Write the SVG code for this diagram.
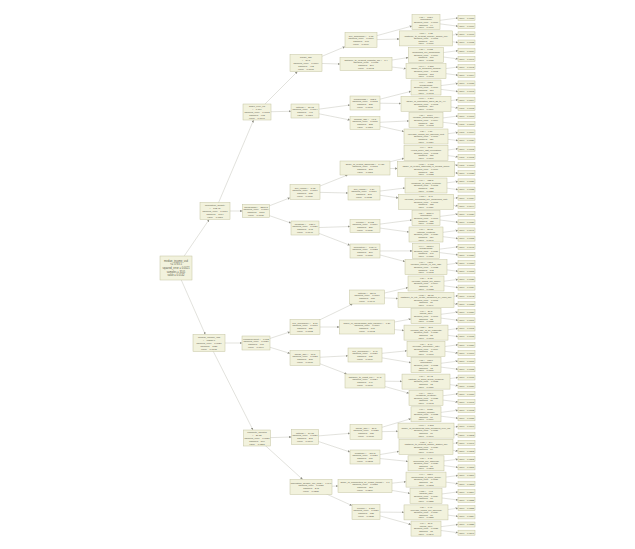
<svg xmlns="http://www.w3.org/2000/svg" width="635" height="549" viewBox="0 0 635 549">
<defs>
<style>
.n rect{fill:#f2f2dd;stroke:#c4c4a0;stroke-width:.5}
.n text{font-family:"Liberation Sans",Arial,sans-serif;font-size:2.4px;fill:#5a5a4a;text-anchor:middle}
.r text{font-size:2.6px}
.s text{font-size:2.3px}
#edges line{stroke:#b5b5aa;stroke-width:.4;fill:none;marker-end:url(#a)}
</style>
<marker id="a" viewBox="0 0 6 6" refX="6" refY="3" markerWidth="2.4" markerHeight="2.4" markerUnits="userSpaceOnUse" orient="auto"><path d="M0,0L6,3L0,6z" fill="#8f8f85"/></marker>
</defs>
<rect width="635" height="549" fill="#fff"/>
<g id="edges">
<line x1="176" y1="268" x2="209.2" y2="219.5"/>
<line x1="176" y1="268" x2="205.3" y2="334.5"/>
<line x1="215" y1="211" x2="253.6" y2="120"/>
<line x1="215" y1="211" x2="242.5" y2="211"/>
<line x1="209" y1="343" x2="242" y2="343"/>
<line x1="209" y1="343" x2="253" y2="430"/>
<line x1="257" y1="112" x2="297.5" y2="71.5"/>
<line x1="257" y1="112" x2="291" y2="111.3"/>
<line x1="256" y1="211" x2="290" y2="197.8"/>
<line x1="256" y1="211" x2="291" y2="223.1"/>
<line x1="256" y1="343" x2="290" y2="331.9"/>
<line x1="256" y1="343" x2="290" y2="353.4"/>
<line x1="257" y1="438" x2="291.5" y2="437"/>
<line x1="257" y1="438" x2="302.7" y2="479.5"/>
<line x1="306" y1="63" x2="345" y2="46.7"/>
<line x1="306" y1="63" x2="340" y2="64"/>
<line x1="305" y1="111" x2="350" y2="105"/>
<line x1="305" y1="111" x2="350" y2="120"/>
<line x1="305" y1="192" x2="347.6" y2="175"/>
<line x1="305" y1="192" x2="348" y2="193"/>
<line x1="305" y1="228" x2="350" y2="226.5"/>
<line x1="305" y1="228" x2="350" y2="245.3"/>
<line x1="305" y1="327" x2="352.5" y2="304"/>
<line x1="305" y1="327" x2="339.5" y2="327"/>
<line x1="305" y1="358" x2="348" y2="355.8"/>
<line x1="305" y1="358" x2="346.7" y2="374"/>
<line x1="305" y1="437" x2="350" y2="433.3"/>
<line x1="305" y1="437" x2="350" y2="452"/>
<line x1="311" y1="487" x2="338" y2="486"/>
<line x1="311" y1="487" x2="352" y2="505.6"/>
<line x1="361" y1="40" x2="412" y2="26"/>
<line x1="361" y1="40" x2="399.5" y2="39"/>
<line x1="366" y1="64" x2="408.5" y2="57.5"/>
<line x1="366" y1="64" x2="406" y2="68.7"/>
<line x1="365" y1="103" x2="411" y2="91.3"/>
<line x1="365" y1="103" x2="401" y2="103.5"/>
<line x1="365" y1="123" x2="409" y2="120.9"/>
<line x1="365" y1="123" x2="404" y2="131.6"/>
<line x1="365" y1="168" x2="404" y2="158.3"/>
<line x1="365" y1="168" x2="397.5" y2="168.6"/>
<line x1="364" y1="193" x2="405" y2="188"/>
<line x1="364" y1="193" x2="398.5" y2="197.9"/>
<line x1="365" y1="226" x2="412" y2="220"/>
<line x1="365" y1="226" x2="409" y2="232.1"/>
<line x1="365" y1="251" x2="412.5" y2="250.9"/>
<line x1="365" y1="251" x2="405" y2="261.6"/>
<line x1="367" y1="297" x2="408" y2="287.6"/>
<line x1="367" y1="297" x2="398" y2="298.5"/>
<line x1="367" y1="327" x2="411" y2="319"/>
<line x1="367" y1="327" x2="404" y2="330.5"/>
<line x1="365" y1="355" x2="407" y2="350.8"/>
<line x1="365" y1="355" x2="411" y2="362.7"/>
<line x1="365" y1="381" x2="402" y2="381.4"/>
<line x1="365" y1="381" x2="409" y2="393.2"/>
<line x1="366" y1="432" x2="411" y2="418.7"/>
<line x1="366" y1="432" x2="398" y2="431.3"/>
<line x1="365" y1="457" x2="399" y2="451.4"/>
<line x1="365" y1="457" x2="408" y2="461.4"/>
<line x1="365" y1="486" x2="406" y2="481.7"/>
<line x1="365" y1="486" x2="410" y2="493.4"/>
<line x1="366" y1="512" x2="404" y2="512.3"/>
<line x1="366" y1="512" x2="411" y2="524.5"/>
<line x1="426" y1="22.1" x2="458" y2="18"/><line x1="426" y1="22.1" x2="458" y2="26.2"/>
<line x1="426" y1="38.4" x2="458" y2="34.3"/><line x1="426" y1="38.4" x2="458" y2="42.5"/>
<line x1="426" y1="54.8" x2="458" y2="50.7"/><line x1="426" y1="54.8" x2="458" y2="58.9"/>
<line x1="426" y1="71.1" x2="458" y2="67"/><line x1="426" y1="71.1" x2="458" y2="75.2"/>
<line x1="426" y1="87.5" x2="458" y2="83.4"/><line x1="426" y1="87.5" x2="458" y2="91.5"/>
<line x1="426" y1="103.8" x2="458" y2="99.7"/><line x1="426" y1="103.8" x2="458" y2="107.9"/>
<line x1="426" y1="120.1" x2="458" y2="116"/><line x1="426" y1="120.1" x2="458" y2="124.2"/>
<line x1="426" y1="136.5" x2="458" y2="132.4"/><line x1="426" y1="136.5" x2="458" y2="140.6"/>
<line x1="426" y1="152.8" x2="458" y2="148.7"/><line x1="426" y1="152.8" x2="458" y2="156.9"/>
<line x1="426" y1="169.2" x2="458" y2="165.1"/><line x1="426" y1="169.2" x2="458" y2="173.2"/>
<line x1="426" y1="185.5" x2="458" y2="181.4"/><line x1="426" y1="185.5" x2="458" y2="189.6"/>
<line x1="426" y1="201.8" x2="458" y2="197.7"/><line x1="426" y1="201.8" x2="458" y2="205.9"/>
<line x1="426" y1="218.2" x2="458" y2="214.1"/><line x1="426" y1="218.2" x2="458" y2="222.3"/>
<line x1="426" y1="234.5" x2="458" y2="230.4"/><line x1="426" y1="234.5" x2="458" y2="238.6"/>
<line x1="426" y1="250.9" x2="458" y2="246.8"/><line x1="426" y1="250.9" x2="458" y2="254.9"/>
<line x1="426" y1="267.2" x2="458" y2="263.1"/><line x1="426" y1="267.2" x2="458" y2="271.3"/>
<line x1="426" y1="283.5" x2="458" y2="279.4"/><line x1="426" y1="283.5" x2="458" y2="287.6"/>
<line x1="426" y1="299.9" x2="458" y2="295.8"/><line x1="426" y1="299.9" x2="458" y2="304"/>
<line x1="426" y1="316.2" x2="458" y2="312.1"/><line x1="426" y1="316.2" x2="458" y2="320.3"/>
<line x1="426" y1="332.6" x2="458" y2="328.5"/><line x1="426" y1="332.6" x2="458" y2="336.6"/>
<line x1="426" y1="348.9" x2="458" y2="344.8"/><line x1="426" y1="348.9" x2="458" y2="353"/>
<line x1="426" y1="365.2" x2="458" y2="361.1"/><line x1="426" y1="365.2" x2="458" y2="369.3"/>
<line x1="426" y1="381.6" x2="458" y2="377.5"/><line x1="426" y1="381.6" x2="458" y2="385.7"/>
<line x1="426" y1="397.9" x2="458" y2="393.8"/><line x1="426" y1="397.9" x2="458" y2="402"/>
<line x1="426" y1="414.3" x2="458" y2="410.2"/><line x1="426" y1="414.3" x2="458" y2="418.3"/>
<line x1="426" y1="430.6" x2="458" y2="426.5"/><line x1="426" y1="430.6" x2="458" y2="434.7"/>
<line x1="426" y1="446.9" x2="458" y2="442.8"/><line x1="426" y1="446.9" x2="458" y2="451"/>
<line x1="426" y1="463.3" x2="458" y2="459.2"/><line x1="426" y1="463.3" x2="458" y2="467.4"/>
<line x1="426" y1="479.6" x2="458" y2="475.5"/><line x1="426" y1="479.6" x2="458" y2="483.7"/>
<line x1="426" y1="496" x2="458" y2="491.9"/><line x1="426" y1="496" x2="458" y2="500"/>
<line x1="426" y1="512.4" x2="458" y2="508.2"/><line x1="426" y1="512.4" x2="458" y2="516.4"/>
<line x1="426" y1="528.6" x2="458" y2="524.5"/><line x1="426" y1="528.6" x2="458" y2="532.7"/>
</g>
<g id="root" class="n r"><rect x="160" y="256" width="32" height="24"/><text x="176" y="261.7">median_income_usd<tspan x="176" dy="3.6">&lt;= 5783.5</tspan><tspan x="176" dy="3.6">squared_error = 0.0021</tspan><tspan x="176" dy="3.6">samples = 3105</tspan><tspan x="176" dy="3.6">value = 0.0142</tspan></text></g>
<g id="n1" class="n"><rect x="200" y="202.5" width="30" height="17"/><text x="215" y="206.05">population_density<tspan x="215" dy="2.9">&lt;= 182.45</tspan><tspan x="215" dy="2.9">squared_error = 0.0017</tspan><tspan x="215" dy="2.9">samples = 1984</tspan><tspan x="215" dy="2.9">value = 0.0118</tspan></text></g>
<g id="n2" class="n"><rect x="193" y="334.5" width="32" height="17"/><text x="209" y="338.05">median_income_usd<tspan x="209" dy="2.9">&lt;= 61250.0</tspan><tspan x="209" dy="2.9">squared_error = 0.0026</tspan><tspan x="209" dy="2.9">samples = 1121</tspan><tspan x="209" dy="2.9">value = 0.0185</tspan></text></g>
<g id="n3" class="n"><rect x="243" y="104" width="28" height="16"/><text x="257" y="107.05">share_over_65<tspan x="257" dy="2.9">&lt;= 0.184</tspan><tspan x="257" dy="2.9">squared_error = 0.0012</tspan><tspan x="257" dy="2.9">samples = 903</tspan><tspan x="257" dy="2.9">value = 0.0097</tspan></text></g>
<g id="n4" class="n"><rect x="242.5" y="204.5" width="27" height="13"/><text x="256" y="207.5">households &lt;= 2310.5<tspan x="256" dy="2.9">squared_error = 0.0019</tspan><tspan x="256" dy="2.9">samples = 1081</tspan><tspan x="256" dy="2.9">value = 0.0136</tspan></text></g>
<g id="n5" class="n"><rect x="242" y="336" width="28" height="14"/><text x="256" y="339.5">unemployment &lt;= 0.062<tspan x="256" dy="2.9">squared_error = 0.0021</tspan><tspan x="256" dy="2.9">samples = 617</tspan><tspan x="256" dy="2.9">value = 0.0164</tspan></text></g>
<g id="n6" class="n"><rect x="243.5" y="430" width="27" height="16"/><text x="257" y="433.05">commute_minutes<tspan x="257" dy="2.9">&lt;= 27.35</tspan><tspan x="257" dy="2.9">squared_error = 0.0031</tspan><tspan x="257" dy="2.9">samples = 504</tspan><tspan x="257" dy="2.9">value = 0.0211</tspan></text></g>
<g id="n7" class="n"><rect x="290" y="54.5" width="32" height="17"/><text x="306" y="58.05">house_age<tspan x="306" dy="2.9">&lt;= 34.5</tspan><tspan x="306" dy="2.9">squared_error = 0.0009</tspan><tspan x="306" dy="2.9">samples = 412</tspan><tspan x="306" dy="2.9">value = 0.0081</tspan></text></g>
<g id="n8" class="n"><rect x="291" y="104" width="28" height="14"/><text x="305" y="107.5">latitude &lt;= 37.62<tspan x="305" dy="2.9">squared_error = 0.0014</tspan><tspan x="305" dy="2.9">samples = 491</tspan><tspan x="305" dy="2.9">value = 0.0110</tspan></text></g>
<g id="n9" class="n"><rect x="290" y="184.5" width="30" height="15"/><text x="305" y="188.5">ave_rooms &lt;= 5.12<tspan x="305" dy="2.9">squared_error = 0.0016</tspan><tspan x="305" dy="2.9">samples = 538</tspan><tspan x="305" dy="2.9">value = 0.0124</tspan></text></g>
<g id="n10" class="n"><rect x="291" y="221" width="28" height="14"/><text x="305" y="224.5">longitude &lt;= -121.9<tspan x="305" dy="2.9">squared_error = 0.0021</tspan><tspan x="305" dy="2.9">samples = 543</tspan><tspan x="305" dy="2.9">value = 0.0148</tspan></text></g>
<g id="n11" class="n"><rect x="290" y="319.5" width="30" height="15"/><text x="305" y="323.5">ave_occupancy &lt;= 2.87<tspan x="305" dy="2.9">squared_error = 0.0018</tspan><tspan x="305" dy="2.9">samples = 329</tspan><tspan x="305" dy="2.9">value = 0.0152</tspan></text></g>
<g id="n12" class="n"><rect x="290" y="350.5" width="30" height="15"/><text x="305" y="354.5">house_age &lt;= 18.5<tspan x="305" dy="2.9">squared_error = 0.0023</tspan><tspan x="305" dy="2.9">samples = 288</tspan><tspan x="305" dy="2.9">value = 0.0178</tspan></text></g>
<g id="n13" class="n"><rect x="291.5" y="429.5" width="27" height="15"/><text x="305" y="433.5">latitude &lt;= 34.05<tspan x="305" dy="2.9">squared_error = 0.0027</tspan><tspan x="305" dy="2.9">samples = 261</tspan><tspan x="305" dy="2.9">value = 0.0196</tspan></text></g>
<g id="n14" class="n"><rect x="290" y="479.5" width="42" height="15"/><text x="311" y="483.5">population_density_per_km2 &lt;= 940.0<tspan x="311" dy="2.9">squared_error = 0.0035</tspan><tspan x="311" dy="2.9">samples = 243</tspan><tspan x="311" dy="2.9">value = 0.0227</tspan></text></g>
<g id="n15" class="n"><rect x="345" y="32.5" width="32" height="15"/><text x="361" y="36.5">ave_bedrooms &lt;= 1.05<tspan x="361" dy="2.9">squared_error = 0.0007</tspan><tspan x="361" dy="2.9">samples = 198</tspan><tspan x="361" dy="2.9">value = 0.0069</tspan></text></g>
<g id="n16" class="n"><rect x="340" y="57.5" width="52" height="13"/><text x="366" y="60.5">distance_to_nearest_hospital_km &lt;= 8.4<tspan x="366" dy="2.9">squared_error = 0.0011</tspan><tspan x="366" dy="2.9">samples = 214</tspan><tspan x="366" dy="2.9">value = 0.0092</tspan></text></g>
<g id="n17" class="n"><rect x="350" y="96" width="30" height="14"/><text x="365" y="99.5">households &lt;= 812.5<tspan x="365" dy="2.9">squared_error = 0.0012</tspan><tspan x="365" dy="2.9">samples = 236</tspan><tspan x="365" dy="2.9">value = 0.0101</tspan></text></g>
<g id="n18" class="n"><rect x="350" y="116.5" width="30" height="13"/><text x="365" y="119.5">median_age &lt;= 41.5<tspan x="365" dy="2.9">squared_error = 0.0015</tspan><tspan x="365" dy="2.9">samples = 255</tspan><tspan x="365" dy="2.9">value = 0.0118</tspan></text></g>
<g id="n19" class="n"><rect x="340" y="161" width="50" height="14"/><text x="365" y="164.5">share_of_rented_dwellings &lt;= 0.437<tspan x="365" dy="2.9">squared_error = 0.0013</tspan><tspan x="365" dy="2.9">samples = 267</tspan><tspan x="365" dy="2.9">value = 0.0115</tspan></text></g>
<g id="n20" class="n"><rect x="348" y="186" width="32" height="14"/><text x="364" y="189.5">ave_rooms &lt;= 6.34<tspan x="364" dy="2.9">squared_error = 0.0017</tspan><tspan x="364" dy="2.9">samples = 271</tspan><tspan x="364" dy="2.9">value = 0.0133</tspan></text></g>
<g id="n21" class="n"><rect x="350" y="219.5" width="30" height="13"/><text x="365" y="222.5">income &lt;= 3.982<tspan x="365" dy="2.9">squared_error = 0.0019</tspan><tspan x="365" dy="2.9">samples = 259</tspan><tspan x="365" dy="2.9">value = 0.0139</tspan></text></g>
<g id="n22" class="n"><rect x="350" y="244" width="30" height="14"/><text x="365" y="247.5">population &lt;= 1424.0<tspan x="365" dy="2.9">squared_error = 0.0022</tspan><tspan x="365" dy="2.9">samples = 284</tspan><tspan x="365" dy="2.9">value = 0.0156</tspan></text></g>
<g id="n23" class="n"><rect x="349.5" y="290" width="35" height="14"/><text x="367" y="293.5">latitude &lt;= 33.91<tspan x="367" dy="2.9">squared_error = 0.0016</tspan><tspan x="367" dy="2.9">samples = 158</tspan><tspan x="367" dy="2.9">value = 0.0141</tspan></text></g>
<g id="n24" class="n"><rect x="339.5" y="320" width="55" height="14"/><text x="367" y="323.5">share_of_households_with_children &lt;= 0.29<tspan x="367" dy="2.9">squared_error = 0.0019</tspan><tspan x="367" dy="2.9">samples = 171</tspan><tspan x="367" dy="2.9">value = 0.0162</tspan></text></g>
<g id="n25" class="n"><rect x="348" y="348" width="34" height="14"/><text x="365" y="351.5">ave_occupancy &lt;= 3.41<tspan x="365" dy="2.9">squared_error = 0.0021</tspan><tspan x="365" dy="2.9">samples = 139</tspan><tspan x="365" dy="2.9">value = 0.0169</tspan></text></g>
<g id="n26" class="n"><rect x="345" y="374" width="40" height="14"/><text x="365" y="377.5">distance_to_coast_km &lt;= 14.2<tspan x="365" dy="2.9">squared_error = 0.0024</tspan><tspan x="365" dy="2.9">samples = 149</tspan><tspan x="365" dy="2.9">value = 0.0186</tspan></text></g>
<g id="n27" class="n"><rect x="350" y="424.5" width="32" height="15"/><text x="366" y="428.5">house_age &lt;= 27.5<tspan x="366" dy="2.9">squared_error = 0.0025</tspan><tspan x="366" dy="2.9">samples = 127</tspan><tspan x="366" dy="2.9">value = 0.0188</tspan></text></g>
<g id="n28" class="n"><rect x="350" y="450" width="30" height="14"/><text x="365" y="453.5">longitude &lt;= -118.3<tspan x="365" dy="2.9">squared_error = 0.0028</tspan><tspan x="365" dy="2.9">samples = 134</tspan><tspan x="365" dy="2.9">value = 0.0203</tspan></text></g>
<g id="n29" class="n"><rect x="338" y="479.5" width="54" height="13"/><text x="365" y="482.5">share_of_commuters_by_public_transit &lt;= 0.1<tspan x="365" dy="2.9">squared_error = 0.0033</tspan><tspan x="365" dy="2.9">samples = 118</tspan><tspan x="365" dy="2.9">value = 0.0219</tspan></text></g>
<g id="n30" class="n"><rect x="352" y="504.5" width="28" height="15"/><text x="366" y="508.5">income &lt;= 5.217<tspan x="366" dy="2.9">squared_error = 0.0036</tspan><tspan x="366" dy="2.9">samples = 125</tspan><tspan x="366" dy="2.9">value = 0.0235</tspan></text></g>
<g id="n31" class="n s"><rect x="412" y="14.6" width="28" height="15"/><text x="426" y="17.7">X[3] &lt;= 612.0<tspan x="426" dy="2.6">(population)</tspan><tspan x="426" dy="2.6">squared_error = 0.0006</tspan><tspan x="426" dy="2.6">samples = 94</tspan><tspan x="426" dy="2.6">value = 0.0061</tspan></text></g>
<g id="n32" class="n s"><rect x="399.5" y="30.9" width="53" height="15"/><text x="426" y="34">X[11] &lt;= 1.25<tspan x="426" dy="2.6">(distance_to_nearest_primary_school_km)</tspan><tspan x="426" dy="2.6">squared_error = 0.0008</tspan><tspan x="426" dy="2.6">samples = 104</tspan><tspan x="426" dy="2.6">value = 0.0076</tspan></text></g>
<g id="n33" class="n s"><rect x="408.5" y="47.3" width="35" height="15"/><text x="426" y="50.4">X[5] &lt;= 0.982<tspan x="426" dy="2.6">(bedrooms_per_household)</tspan><tspan x="426" dy="2.6">squared_error = 0.0009</tspan><tspan x="426" dy="2.6">samples = 101</tspan><tspan x="426" dy="2.6">value = 0.0085</tspan></text></g>
<g id="n34" class="n s"><rect x="406" y="63.6" width="40" height="15"/><text x="426" y="66.7">X[14] &lt;= 0.318<tspan x="426" dy="2.6">(share_of_detached_houses)</tspan><tspan x="426" dy="2.6">squared_error = 0.0012</tspan><tspan x="426" dy="2.6">samples = 113</tspan><tspan x="426" dy="2.6">value = 0.0098</tspan></text></g>
<g id="n35" class="n s"><rect x="411" y="80" width="30" height="15"/><text x="426" y="83.1">X[4] &lt;= 402.5<tspan x="426" dy="2.6">(households)</tspan><tspan x="426" dy="2.6">squared_error = 0.0010</tspan><tspan x="426" dy="2.6">samples = 117</tspan><tspan x="426" dy="2.6">value = 0.0093</tspan></text></g>
<g id="n36" class="n s"><rect x="401" y="96.3" width="50" height="15"/><text x="426" y="99.4">X[17] &lt;= 0.274<tspan x="426" dy="2.6">(share_of_population_aged_25_to_44)</tspan><tspan x="426" dy="2.6">squared_error = 0.0013</tspan><tspan x="426" dy="2.6">samples = 119</tspan><tspan x="426" dy="2.6">value = 0.0109</tspan></text></g>
<g id="n37" class="n s"><rect x="409" y="112.6" width="34" height="15"/><text x="426" y="115.7">X[8] &lt;= 2.764<tspan x="426" dy="2.6">(median_household_size)</tspan><tspan x="426" dy="2.6">squared_error = 0.0014</tspan><tspan x="426" dy="2.6">samples = 126</tspan><tspan x="426" dy="2.6">value = 0.0112</tspan></text></g>
<g id="n38" class="n s"><rect x="404" y="129" width="44" height="15"/><text x="426" y="132.1">X[2] &lt;= 4.87<tspan x="426" dy="2.6">(average_rooms_per_dwelling_unit)</tspan><tspan x="426" dy="2.6">squared_error = 0.0016</tspan><tspan x="426" dy="2.6">samples = 129</tspan><tspan x="426" dy="2.6">value = 0.0124</tspan></text></g>
<g id="n39" class="n s"><rect x="404" y="145.3" width="44" height="15"/><text x="426" y="148.4">X[9] &lt;= 12.5<tspan x="426" dy="2.6">(years_since_last_renovation)</tspan><tspan x="426" dy="2.6">squared_error = 0.0012</tspan><tspan x="426" dy="2.6">samples = 131</tspan><tspan x="426" dy="2.6">value = 0.0107</tspan></text></g>
<g id="n40" class="n s"><rect x="397.5" y="161.7" width="57" height="15"/><text x="426" y="164.8">X[13] &lt;= 0.612<tspan x="426" dy="2.6">(share_of_rented_dwellings_in_census_block)</tspan><tspan x="426" dy="2.6">squared_error = 0.0016</tspan><tspan x="426" dy="2.6">samples = 136</tspan><tspan x="426" dy="2.6">value = 0.0122</tspan></text></g>
<g id="n41" class="n s"><rect x="405" y="178" width="42" height="15"/><text x="426" y="181.1">X[7] &lt;= -122.2<tspan x="426" dy="2.6">(longitude_of_block_centroid)</tspan><tspan x="426" dy="2.6">squared_error = 0.0015</tspan><tspan x="426" dy="2.6">samples = 133</tspan><tspan x="426" dy="2.6">value = 0.0127</tspan></text></g>
<g id="n42" class="n s"><rect x="398.5" y="194.3" width="55" height="15"/><text x="426" y="197.4">X[10] &lt;= 2.41<tspan x="426" dy="2.6">(average_occupants_per_household_unit)</tspan><tspan x="426" dy="2.6">squared_error = 0.0018</tspan><tspan x="426" dy="2.6">samples = 138</tspan><tspan x="426" dy="2.6">value = 0.0139</tspan></text></g>
<g id="n43" class="n s"><rect x="412" y="210.7" width="28" height="15"/><text x="426" y="213.8">X[3] &lt;= 2187.0<tspan x="426" dy="2.6">(population)</tspan><tspan x="426" dy="2.6">squared_error = 0.0017</tspan><tspan x="426" dy="2.6">samples = 125</tspan><tspan x="426" dy="2.6">value = 0.0131</tspan></text></g>
<g id="n44" class="n s"><rect x="409" y="227" width="34" height="15"/><text x="426" y="230.1">X[6] &lt;= 36.78<tspan x="426" dy="2.6">(latitude_centroid)</tspan><tspan x="426" dy="2.6">squared_error = 0.0020</tspan><tspan x="426" dy="2.6">samples = 134</tspan><tspan x="426" dy="2.6">value = 0.0147</tspan></text></g>
<g id="n45" class="n s"><rect x="412.5" y="243.4" width="27" height="15"/><text x="426" y="246.5">X[4] &lt;= 1503.0<tspan x="426" dy="2.6">(households)</tspan><tspan x="426" dy="2.6">squared_error = 0.0021</tspan><tspan x="426" dy="2.6">samples = 141</tspan><tspan x="426" dy="2.6">value = 0.0150</tspan></text></g>
<g id="n46" class="n s"><rect x="405" y="259.7" width="42" height="15"/><text x="426" y="262.8">X[0] &lt;= 4.391<tspan x="426" dy="2.6">(median_income_in_10k_usd)</tspan><tspan x="426" dy="2.6">squared_error = 0.0023</tspan><tspan x="426" dy="2.6">samples = 143</tspan><tspan x="426" dy="2.6">value = 0.0162</tspan></text></g>
<g id="n47" class="n s"><rect x="408" y="276" width="36" height="15"/><text x="426" y="279.1">X[2] &lt;= 5.73<tspan x="426" dy="2.6">(average_rooms_per_home)</tspan><tspan x="426" dy="2.6">squared_error = 0.0014</tspan><tspan x="426" dy="2.6">samples = 77</tspan><tspan x="426" dy="2.6">value = 0.0133</tspan></text></g>
<g id="n48" class="n s"><rect x="398" y="292.4" width="56" height="15"/><text x="426" y="295.5">X[12] &lt;= 22.75<tspan x="426" dy="2.6">(distance_to_city_centre_measured_by_road_km)</tspan><tspan x="426" dy="2.6">squared_error = 0.0018</tspan><tspan x="426" dy="2.6">samples = 81</tspan><tspan x="426" dy="2.6">value = 0.0149</tspan></text></g>
<g id="n49" class="n s"><rect x="411" y="308.7" width="30" height="15"/><text x="426" y="311.8">X[1] &lt;= 39.5<tspan x="426" dy="2.6">(house_age)</tspan><tspan x="426" dy="2.6">squared_error = 0.0017</tspan><tspan x="426" dy="2.6">samples = 83</tspan><tspan x="426" dy="2.6">value = 0.0155</tspan></text></g>
<g id="n50" class="n s"><rect x="404" y="325.1" width="44" height="15"/><text x="426" y="328.2">X[15] &lt;= 36.5<tspan x="426" dy="2.6">(median_age_of_all_residents)</tspan><tspan x="426" dy="2.6">squared_error = 0.0020</tspan><tspan x="426" dy="2.6">samples = 88</tspan><tspan x="426" dy="2.6">value = 0.0168</tspan></text></g>
<g id="n51" class="n s"><rect x="407" y="341.4" width="38" height="15"/><text x="426" y="344.5">X[5] &lt;= 2.96<tspan x="426" dy="2.6">(average_occupancy_rate)</tspan><tspan x="426" dy="2.6">squared_error = 0.0019</tspan><tspan x="426" dy="2.6">samples = 67</tspan><tspan x="426" dy="2.6">value = 0.0161</tspan></text></g>
<g id="n52" class="n s"><rect x="411" y="357.7" width="30" height="15"/><text x="426" y="360.8">X[3] &lt;= 987.0<tspan x="426" dy="2.6">(population)</tspan><tspan x="426" dy="2.6">squared_error = 0.0022</tspan><tspan x="426" dy="2.6">samples = 72</tspan><tspan x="426" dy="2.6">value = 0.0176</tspan></text></g>
<g id="n53" class="n s"><rect x="402" y="374.1" width="48" height="15"/><text x="426" y="377.2">X[6] &lt;= 34.42<tspan x="426" dy="2.6">(latitude_of_block_group_centroid)</tspan><tspan x="426" dy="2.6">squared_error = 0.0023</tspan><tspan x="426" dy="2.6">samples = 73</tspan><tspan x="426" dy="2.6">value = 0.0180</tspan></text></g>
<g id="n54" class="n s"><rect x="409" y="390.4" width="34" height="15"/><text x="426" y="393.5">X[7] &lt;= -117.9<tspan x="426" dy="2.6">(longitude_centroid)</tspan><tspan x="426" dy="2.6">squared_error = 0.0025</tspan><tspan x="426" dy="2.6">samples = 76</tspan><tspan x="426" dy="2.6">value = 0.0192</tspan></text></g>
<g id="n55" class="n s"><rect x="411" y="406.8" width="30" height="15"/><text x="426" y="409.9">X[0] &lt;= 3.127<tspan x="426" dy="2.6">(median_income)</tspan><tspan x="426" dy="2.6">squared_error = 0.0022</tspan><tspan x="426" dy="2.6">samples = 61</tspan><tspan x="426" dy="2.6">value = 0.0179</tspan></text></g>
<g id="n56" class="n s"><rect x="398" y="423.1" width="56" height="15"/><text x="426" y="426.2">X[16] &lt;= 0.213<tspan x="426" dy="2.6">(share_of_households_with_members_over_65)</tspan><tspan x="426" dy="2.6">squared_error = 0.0027</tspan><tspan x="426" dy="2.6">samples = 66</tspan><tspan x="426" dy="2.6">value = 0.0196</tspan></text></g>
<g id="n57" class="n s"><rect x="399" y="439.4" width="54" height="15"/><text x="426" y="442.5">X[11] &lt;= 3.4<tspan x="426" dy="2.6">(distance_to_nearest_railway_station_km)</tspan><tspan x="426" dy="2.6">squared_error = 0.0026</tspan><tspan x="426" dy="2.6">samples = 64</tspan><tspan x="426" dy="2.6">value = 0.0197</tspan></text></g>
<g id="n58" class="n s"><rect x="408" y="455.8" width="36" height="15"/><text x="426" y="458.9">X[5] &lt;= 1.12<tspan x="426" dy="2.6">(bedrooms_per_dwelling)</tspan><tspan x="426" dy="2.6">squared_error = 0.0030</tspan><tspan x="426" dy="2.6">samples = 70</tspan><tspan x="426" dy="2.6">value = 0.0208</tspan></text></g>
<g id="n59" class="n s"><rect x="406" y="472.1" width="40" height="15"/><text x="426" y="475.2">X[4] &lt;= 688.0<tspan x="426" dy="2.6">(households_in_block_group)</tspan><tspan x="426" dy="2.6">squared_error = 0.0031</tspan><tspan x="426" dy="2.6">samples = 57</tspan><tspan x="426" dy="2.6">value = 0.0212</tspan></text></g>
<g id="n60" class="n s"><rect x="410" y="488.5" width="32" height="15"/><text x="426" y="491.6">X[15] &lt;= 44.5<tspan x="426" dy="2.6">(median_age)</tspan><tspan x="426" dy="2.6">squared_error = 0.0034</tspan><tspan x="426" dy="2.6">samples = 61</tspan><tspan x="426" dy="2.6">value = 0.0225</tspan></text></g>
<g id="n61" class="n s"><rect x="404" y="504.9" width="44" height="15"/><text x="426" y="508">X[2] &lt;= 6.91<tspan x="426" dy="2.6">(average_rooms_per_dwelling)</tspan><tspan x="426" dy="2.6">squared_error = 0.0034</tspan><tspan x="426" dy="2.6">samples = 60</tspan><tspan x="426" dy="2.6">value = 0.0228</tspan></text></g>
<g id="n62" class="n s"><rect x="411" y="521.1" width="30" height="15"/><text x="426" y="524.2">X[1] &lt;= 21.5<tspan x="426" dy="2.6">(house_age)</tspan><tspan x="426" dy="2.6">squared_error = 0.0038</tspan><tspan x="426" dy="2.6">samples = 65</tspan><tspan x="426" dy="2.6">value = 0.0241</tspan></text></g>
<g id="l0" class="n s"><rect x="458" y="15.5" width="17" height="5"/><text x="466.5" y="18.8">value = 0.0057</text></g>
<g id="l1" class="n s"><rect x="458" y="23.7" width="17" height="5"/><text x="466.5" y="27">value = 0.0066</text></g>
<g id="l2" class="n s"><rect x="458" y="31.8" width="17" height="5"/><text x="466.5" y="35.1">value = 0.0071</text></g>
<g id="l3" class="n s"><rect x="458" y="40" width="17" height="5"/><text x="466.5" y="43.3">value = 0.0082</text></g>
<g id="l4" class="n s"><rect x="458" y="48.2" width="17" height="5"/><text x="466.5" y="51.5">value = 0.0079</text></g>
<g id="l5" class="n s"><rect x="458" y="56.4" width="17" height="5"/><text x="466.5" y="59.7">value = 0.0091</text></g>
<g id="l6" class="n s"><rect x="458" y="64.5" width="17" height="5"/><text x="466.5" y="67.8">value = 0.0093</text></g>
<g id="l7" class="n s"><rect x="458" y="72.7" width="17" height="5"/><text x="466.5" y="76">value = 0.0104</text></g>
<g id="l8" class="n s"><rect x="458" y="80.9" width="17" height="5"/><text x="466.5" y="84.2">value = 0.0088</text></g>
<g id="l9" class="n s"><rect x="458" y="89" width="17" height="5"/><text x="466.5" y="92.3">value = 0.0098</text></g>
<g id="l10" class="n s"><rect x="458" y="97.2" width="17" height="5"/><text x="466.5" y="100.5">value = 0.0104</text></g>
<g id="l11" class="n s"><rect x="458" y="105.4" width="17" height="5"/><text x="466.5" y="108.7">value = 0.0113</text></g>
<g id="l12" class="n s"><rect x="458" y="113.5" width="17" height="5"/><text x="466.5" y="116.8">value = 0.0107</text></g>
<g id="l13" class="n s"><rect x="458" y="121.7" width="17" height="5"/><text x="466.5" y="125">value = 0.0117</text></g>
<g id="l14" class="n s"><rect x="458" y="129.9" width="17" height="5"/><text x="466.5" y="133.2">value = 0.0119</text></g>
<g id="l15" class="n s"><rect x="458" y="138.1" width="17" height="5"/><text x="466.5" y="141.4">value = 0.0130</text></g>
<g id="l16" class="n s"><rect x="458" y="146.2" width="17" height="5"/><text x="466.5" y="149.5">value = 0.0102</text></g>
<g id="l17" class="n s"><rect x="458" y="154.4" width="17" height="5"/><text x="466.5" y="157.7">value = 0.0112</text></g>
<g id="l18" class="n s"><rect x="458" y="162.6" width="17" height="5"/><text x="466.5" y="165.9">value = 0.0116</text></g>
<g id="l19" class="n s"><rect x="458" y="170.7" width="17" height="5"/><text x="466.5" y="174">value = 0.0128</text></g>
<g id="l20" class="n s"><rect x="458" y="178.9" width="17" height="5"/><text x="466.5" y="182.2">value = 0.0121</text></g>
<g id="l21" class="n s"><rect x="458" y="187.1" width="17" height="5"/><text x="466.5" y="190.4">value = 0.0133</text></g>
<g id="l22" class="n s"><rect x="458" y="195.2" width="17" height="5"/><text x="466.5" y="198.5">value = 0.0134</text></g>
<g id="l23" class="n s"><rect x="458" y="203.4" width="17" height="5"/><text x="466.5" y="206.7">value = 0.0144</text></g>
<g id="l24" class="n s"><rect x="458" y="211.6" width="17" height="5"/><text x="466.5" y="214.9">value = 0.0126</text></g>
<g id="l25" class="n s"><rect x="458" y="219.8" width="17" height="5"/><text x="466.5" y="223.1">value = 0.0137</text></g>
<g id="l26" class="n s"><rect x="458" y="227.9" width="17" height="5"/><text x="466.5" y="231.2">value = 0.0141</text></g>
<g id="l27" class="n s"><rect x="458" y="236.1" width="17" height="5"/><text x="466.5" y="239.4">value = 0.0153</text></g>
<g id="l28" class="n s"><rect x="458" y="244.3" width="17" height="5"/><text x="466.5" y="247.6">value = 0.0145</text></g>
<g id="l29" class="n s"><rect x="458" y="252.4" width="17" height="5"/><text x="466.5" y="255.7">value = 0.0156</text></g>
<g id="l30" class="n s"><rect x="458" y="260.6" width="17" height="5"/><text x="466.5" y="263.9">value = 0.0157</text></g>
<g id="l31" class="n s"><rect x="458" y="268.8" width="17" height="5"/><text x="466.5" y="272.1">value = 0.0168</text></g>
<g id="l32" class="n s"><rect x="458" y="276.9" width="17" height="5"/><text x="466.5" y="280.2">value = 0.0128</text></g>
<g id="l33" class="n s"><rect x="458" y="285.1" width="17" height="5"/><text x="466.5" y="288.4">value = 0.0139</text></g>
<g id="l34" class="n s"><rect x="458" y="293.3" width="17" height="5"/><text x="466.5" y="296.6">value = 0.0143</text></g>
<g id="l35" class="n s"><rect x="458" y="301.5" width="17" height="5"/><text x="466.5" y="304.8">value = 0.0155</text></g>
<g id="l36" class="n s"><rect x="458" y="309.6" width="17" height="5"/><text x="466.5" y="312.9">value = 0.0150</text></g>
<g id="l37" class="n s"><rect x="458" y="317.8" width="17" height="5"/><text x="466.5" y="321.1">value = 0.0161</text></g>
<g id="l38" class="n s"><rect x="458" y="326" width="17" height="5"/><text x="466.5" y="329.3">value = 0.0162</text></g>
<g id="l39" class="n s"><rect x="458" y="334.1" width="17" height="5"/><text x="466.5" y="337.4">value = 0.0175</text></g>
<g id="l40" class="n s"><rect x="458" y="342.3" width="17" height="5"/><text x="466.5" y="345.6">value = 0.0156</text></g>
<g id="l41" class="n s"><rect x="458" y="350.5" width="17" height="5"/><text x="466.5" y="353.8">value = 0.0167</text></g>
<g id="l42" class="n s"><rect x="458" y="358.6" width="17" height="5"/><text x="466.5" y="361.9">value = 0.0171</text></g>
<g id="l43" class="n s"><rect x="458" y="366.8" width="17" height="5"/><text x="466.5" y="370.1">value = 0.0182</text></g>
<g id="l44" class="n s"><rect x="458" y="375" width="17" height="5"/><text x="466.5" y="378.3">value = 0.0175</text></g>
<g id="l45" class="n s"><rect x="458" y="383.2" width="17" height="5"/><text x="466.5" y="386.5">value = 0.0186</text></g>
<g id="l46" class="n s"><rect x="458" y="391.3" width="17" height="5"/><text x="466.5" y="394.6">value = 0.0187</text></g>
<g id="l47" class="n s"><rect x="458" y="399.5" width="17" height="5"/><text x="466.5" y="402.8">value = 0.0198</text></g>
<g id="l48" class="n s"><rect x="458" y="407.7" width="17" height="5"/><text x="466.5" y="411">value = 0.0173</text></g>
<g id="l49" class="n s"><rect x="458" y="415.8" width="17" height="5"/><text x="466.5" y="419.1">value = 0.0185</text></g>
<g id="l50" class="n s"><rect x="458" y="424" width="17" height="5"/><text x="466.5" y="427.3">value = 0.0190</text></g>
<g id="l51" class="n s"><rect x="458" y="432.2" width="17" height="5"/><text x="466.5" y="435.5">value = 0.0203</text></g>
<g id="l52" class="n s"><rect x="458" y="440.3" width="17" height="5"/><text x="466.5" y="443.6">value = 0.0191</text></g>
<g id="l53" class="n s"><rect x="458" y="448.5" width="17" height="5"/><text x="466.5" y="451.8">value = 0.0203</text></g>
<g id="l54" class="n s"><rect x="458" y="456.7" width="17" height="5"/><text x="466.5" y="460">value = 0.0202</text></g>
<g id="l55" class="n s"><rect x="458" y="464.9" width="17" height="5"/><text x="466.5" y="468.2">value = 0.0215</text></g>
<g id="l56" class="n s"><rect x="458" y="473" width="17" height="5"/><text x="466.5" y="476.3">value = 0.0206</text></g>
<g id="l57" class="n s"><rect x="458" y="481.2" width="17" height="5"/><text x="466.5" y="484.5">value = 0.0218</text></g>
<g id="l58" class="n s"><rect x="458" y="489.4" width="17" height="5"/><text x="466.5" y="492.7">value = 0.0219</text></g>
<g id="l59" class="n s"><rect x="458" y="497.5" width="17" height="5"/><text x="466.5" y="500.8">value = 0.0232</text></g>
<g id="l60" class="n s"><rect x="458" y="505.7" width="17" height="5"/><text x="466.5" y="509">value = 0.0222</text></g>
<g id="l61" class="n s"><rect x="458" y="513.9" width="17" height="5"/><text x="466.5" y="517.2">value = 0.0234</text></g>
<g id="l62" class="n s"><rect x="458" y="522" width="17" height="5"/><text x="466.5" y="525.3">value = 0.0235</text></g>
<g id="l63" class="n s"><rect x="458" y="530.2" width="17" height="5"/><text x="466.5" y="533.5">value = 0.0247</text></g>
</svg>
